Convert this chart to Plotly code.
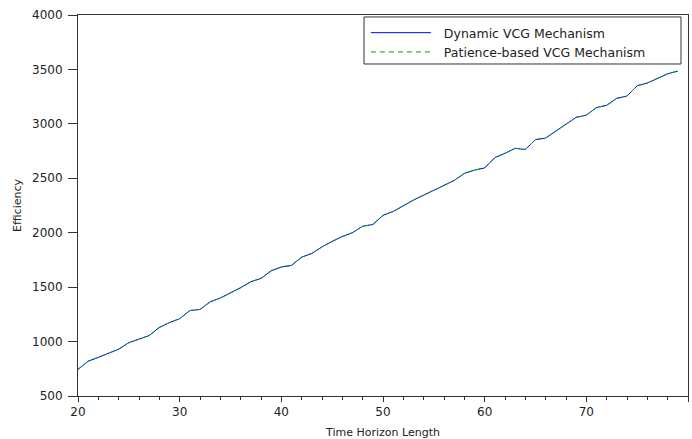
import plotly.graph_objects as go

horizon = list(range(20, 80))
dynamic_vcg = [745, 820, 855, 890, 930, 990, 1025, 1055, 1130, 1175,
               1210, 1285, 1295, 1365, 1400, 1445, 1495, 1550, 1580, 1650,
               1685, 1700, 1775, 1810, 1870, 1920, 1965, 2000, 2060, 2075,
               2160, 2195, 2250, 2300, 2345, 2390, 2435, 2480, 2545, 2575,
               2595, 2690, 2730, 2775, 2765, 2855, 2870, 2935, 3000, 3060,
               3080, 3150, 3170, 3235, 3255, 3350, 3375, 3415, 3460, 3485]
patience_vcg = list(dynamic_vcg)

x_ticks = [20, 30, 40, 50, 60, 70, 80]
y_ticks = [500, 1000, 1500, 2000, 2500, 3000, 3500, 4000]

fig = go.Figure()
fig.add_trace(go.Scatter(x=horizon, y=dynamic_vcg, mode="lines",
                         name="\u00a0\u00a0Dynamic VCG Mechanism",
                         line=dict(color="#0000ff", width=1)))
fig.add_trace(go.Scatter(x=horizon, y=patience_vcg, mode="lines",
                         name="\u00a0\u00a0Patience-based VCG Mechanism",
                         line=dict(color="#00a000", width=1, dash="5px,4px")))

tick_font = dict(family="DejaVu Sans", size=12, color="#222222")
title_font = dict(family="DejaVu Sans", size=11, color="#222222")

fig.update_xaxes(range=[20, 80], tickvals=x_ticks, showgrid=False, zeroline=False,
                 showline=True, linecolor="#333333", linewidth=1, mirror=True,
                 ticks="outside", ticklen=5, tickcolor="#333333", tickfont=tick_font,
                 minor=dict(dtick=2, ticks="outside", ticklen=3, tickcolor="#333333"),
                 title=dict(text="Time Horizon Length", font=title_font, standoff=9))
fig.update_yaxes(range=[500, 4000], tickvals=y_ticks, showgrid=False, zeroline=False,
                 showline=True, linecolor="#333333", linewidth=1, mirror=True,
                 ticks="outside", ticklen=9, tickcolor="#333333", tickfont=tick_font,
                 ticklabelstandoff=3,
                 title=dict(text="Efficiency", font=title_font, standoff=8))

# legend frame
fig.add_shape(type="rect", xref="paper", yref="paper",
              x0=0.4689, x1=0.9885, y0=0.8714, y1=0.9948,
              line=dict(color="#333333", width=1), fillcolor="white", layer="below")

fig.update_layout(
    width=692, height=439,
    margin=dict(l=78, r=4, t=15, b=43),
    paper_bgcolor="white", plot_bgcolor="white",
    showlegend=True,
    legend=dict(x=0.472, y=0.992, xanchor="left", yanchor="top",
                borderwidth=0, bgcolor="rgba(0,0,0,0)",
                itemwidth=60, tracegroupgap=0,
                font=dict(family="DejaVu Sans", size=12.5, color="#222222")),
)

fig.write_html("out.html", config={"displayModeBar": False},
               post_script="document.body.style.margin='0';")
